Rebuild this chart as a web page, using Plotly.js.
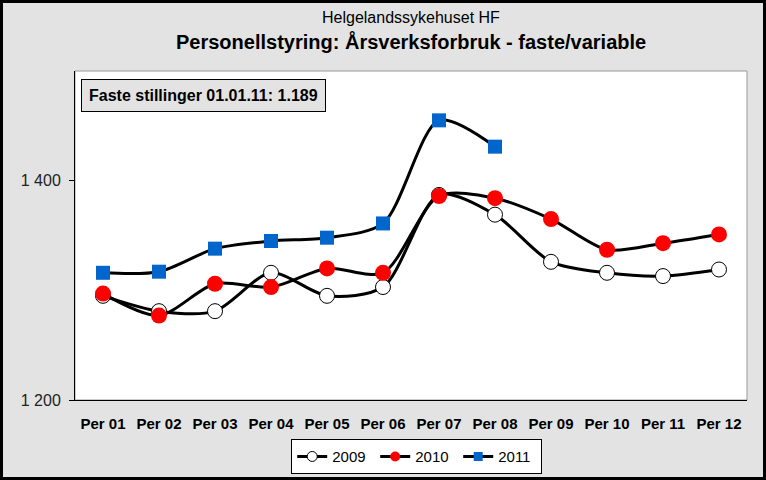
<!DOCTYPE html>
<html><head><meta charset="utf-8">
<script src="https://cdn.plot.ly/plotly-3.0.1.min.js"></script>
<style>body{margin:0;padding:0;}#wrap{position:relative;width:766px;height:480px;}#frame{position:absolute;left:0;top:0;width:766px;height:480px;box-sizing:border-box;border:3px solid #000;pointer-events:none;}</style>
</head><body>
<div id="wrap"><div id="chart" style="width:766px;height:480px;"></div><div id="frame"></div></div>
<script>
const categories = ["Per 01","Per 02","Per 03","Per 04","Per 05","Per 06","Per 07","Per 08","Per 09","Per 10","Per 11","Per 12"];
const y2009 = [1295,1281,1281,1316,1295,1303,1387,1369,1326,1316,1313,1319];
const y2010 = [1297,1277,1306,1303,1320,1316,1386,1384,1365,1337,1343,1351];
const y2011 = [1316,1317,1338,1345,1348,1361,1455,1431];
const seriesNames = ["2009","2010","2011"];
const yTickVals = [1200,1400];
const yTickText = ["1 200","1 400"];

const FONT = 'Liberation Sans, Arial, sans-serif';
const line = {color:'#000', width:3, shape:'spline', smoothing:0.8};
const m2009 = {symbol:'circle', color:'#fff', line:{color:'#000', width:1}};
const m2010 = {symbol:'circle', color:'#ff0000', line:{width:0}};
const m2011 = {symbol:'square', color:'#0066cc', line:{width:0}};
const traces = [
  {x:categories, y:y2009, name:seriesNames[0], mode:'lines+markers', line:line, showlegend:false,
   marker:Object.assign({size:15}, m2009)},
  {x:categories, y:y2010, name:seriesNames[1], mode:'lines+markers', line:line, showlegend:false,
   marker:Object.assign({size:16}, m2010)},
  {x:categories.slice(0,y2011.length), y:y2011, name:seriesNames[2], mode:'lines+markers', line:line, showlegend:false,
   marker:Object.assign({size:14}, m2011)},
  // legend-only entries (no data) so legend markers can be smaller
  {x:[null], y:[null], name:seriesNames[0], mode:'lines+markers', line:{color:'#000', width:3}, marker:Object.assign({size:10}, m2009)},
  {x:[null], y:[null], name:seriesNames[1], mode:'lines+markers', line:{color:'#000', width:3}, marker:Object.assign({size:10}, m2010)},
  {x:[null], y:[null], name:seriesNames[2], mode:'lines+markers', line:{color:'#000', width:3}, marker:Object.assign({size:9}, m2011)}
];
const layout = {
  width:766, height:480,
  paper_bgcolor:'#e3e3e3', plot_bgcolor:'#fff',
  margin:{l:75, r:19, t:71, b:80, autoexpand:false},
  font:{family:FONT, color:'#000'},
  showlegend:true,
  legend:{orientation:'h', xref:'container', yref:'container', x:0.544, xanchor:'center', y:0.085, yanchor:'top',
    bgcolor:'#fff', bordercolor:'#000', borderwidth:1, font:{size:15}, entrywidth:38, tracegroupgap:0},
  xaxis:{type:'category', range:[-0.5,11.5], showgrid:false, zeroline:false, automargin:false,
    showline:true, linecolor:'#000', linewidth:1, ticks:'', ticklabelstandoff:10,
    tickfont:{size:15, family:FONT, weight:'bold'}},
  yaxis:{range:[1200,1500], tickvals:yTickVals, ticktext:yTickText, showgrid:false, zeroline:false, automargin:false,
    showline:true, linecolor:'#000', linewidth:1, ticks:'outside', ticklen:5, tickcolor:'#000',
    ticklabelstandoff:5, tickfont:{size:16, color:'#222'}},
  shapes:[{type:'rect', xref:'paper', yref:'paper', x0:0, x1:1, y0:0, y1:1, line:{color:'#999', width:1}, layer:'below'}],
  annotations:[
    {text:'Helgelandssykehuset HF', xref:'paper', yref:'paper', x:0.5, y:1, xanchor:'center', yanchor:'bottom', yshift:43, showarrow:false, font:{size:16}},
    {text:'<b>Personellstyring: Årsverksforbruk - faste/variable</b>', xref:'paper', yref:'paper', x:0.5, y:1, xanchor:'center', yanchor:'bottom', yshift:16, showarrow:false, font:{size:20}},
    {text:'<b>Faste stillinger 01.01.11: 1.189</b>', xref:'paper', yref:'paper', x:0.0089, y:0.976, xanchor:'left', yanchor:'top', showarrow:false,
      font:{size:16}, bgcolor:'#e3e3e3', bordercolor:'#000', borderwidth:1, borderpad:7}
  ]
};
Plotly.newPlot('chart', traces, layout, {displayModeBar:false, staticPlot:true});
</script>
</body></html>
